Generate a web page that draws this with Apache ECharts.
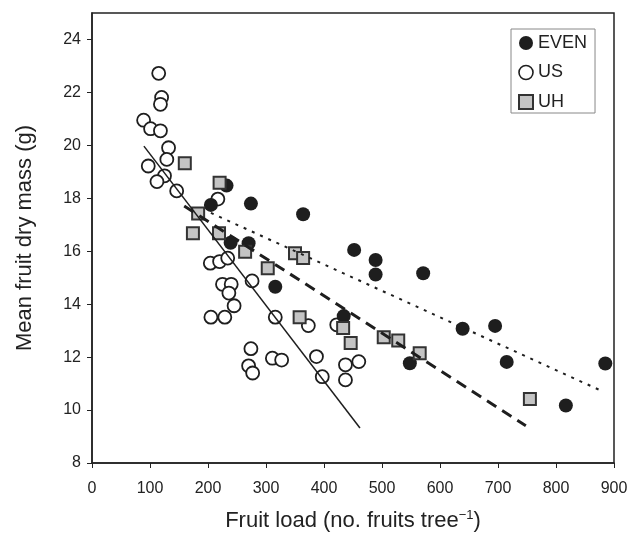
<!DOCTYPE html>
<html>
<head>
<meta charset="utf-8">
<script src="https://cdn.jsdelivr.net/npm/echarts@6/dist/echarts.min.js"></script>
<style>
html,body{margin:0;padding:0;background:#fff;}
#chart{width:631px;height:534px;}
</style>
</head>
<body>
<div id="chart"></div>
<script>
// ---- data ----
const evenX = [205, 232, 274, 239, 270, 316, 364, 452, 489, 489, 571, 434, 548, 639, 695, 715, 885, 817];
const evenY = [17.75, 18.48, 17.8, 16.32, 16.3, 14.66, 17.4, 16.05, 15.67, 15.12, 15.17, 13.55, 11.77, 13.07, 13.18, 11.82, 11.76, 10.17];

const usX = [115, 120, 118, 89, 101, 118, 132, 129, 97, 125, 112, 146, 217, 204, 220, 234, 276, 225, 240, 236, 245, 205, 229, 316, 274, 270, 277, 311, 327, 373, 387, 397, 437, 460, 437, 422];
const usY = [22.72, 21.81, 21.55, 20.95, 20.63, 20.55, 19.91, 19.47, 19.22, 18.85, 18.63, 18.28, 17.97, 15.55, 15.61, 15.74, 14.88, 14.75, 14.75, 14.42, 13.94, 13.51, 13.51, 13.51, 12.32, 11.67, 11.40, 11.96, 11.89, 13.19, 12.02, 11.26, 11.71, 11.83, 11.14, 13.22];

const uhX = [160, 220, 183, 174, 219, 264, 303, 350, 364, 358, 433, 446, 503, 528, 565, 755];
const uhY = [19.32, 18.59, 17.43, 16.68, 16.68, 15.98, 15.36, 15.92, 15.74, 13.51, 13.10, 12.53, 12.75, 12.63, 12.15, 10.42];

// fitted regression lines (end points)
const usFitX = [89.5, 462];
const usFitY = [19.97, 9.32];
const uhFitX = [159, 748];
const uhFitY = [17.71, 9.41];
const evenFitX = [205, 877];
const evenFitY = [17.45, 10.74];

const xTicks = [0, 100, 200, 300, 400, 500, 600, 700, 800, 900];
const yTicks = [8, 10, 12, 14, 16, 18, 20, 22, 24];

const seriesNames = ['EVEN', 'US', 'UH'];

const zip = (xs, ys) => xs.map((x, i) => [x, ys[i]]);
const FONT = '"Liberation Sans", Arial, sans-serif';
const INK = '#222';

const evenStyle = {color: '#1e1e1e', opacity: 1};
const usStyle = {color: '#ffffff', borderColor: '#1e1e1e', borderWidth: 1.8, opacity: 1};
const uhStyle = {color: '#c4c4c4', borderColor: '#333', borderWidth: 2, opacity: 1};

const chart = echarts.init(document.getElementById('chart'), null, {renderer: 'canvas'});
chart.setOption({
  animation: false,
  backgroundColor: '#fff',
  textStyle: {fontFamily: FONT},
  grid: {left: 92, right: 17, top: 13, bottom: 71, containLabel: false, outerBoundsMode: 'none', show: true, borderColor: INK, borderWidth: 1.5, backgroundColor: 'transparent'},
  legend: {
    orient: 'vertical',
    left: 511, top: 29,
    padding: [5, 8, 2, 7],
    itemGap: 11.5,
    itemWidth: 14, itemHeight: 14,
    itemTextGap: 6,
    borderColor: '#888', borderWidth: 1,
    textStyle: {fontSize: 18, color: INK, fontFamily: FONT},
    data: [
      {name: seriesNames[0], icon: 'circle', itemStyle: evenStyle},
      {name: seriesNames[1], icon: 'circle', itemStyle: {color: '#fff', borderColor: '#1e1e1e', borderWidth: 1.6, opacity: 1}},
      {name: seriesNames[2], icon: 'rect', itemStyle: uhStyle}
    ]
  },
  xAxis: {
    type: 'value', min: 0, max: 900, interval: 100,
    name: 'Fruit load (no. fruits tree{sup|−1})',
    nameLocation: 'middle', nameGap: 46,
    nameTextStyle: {fontSize: 22, color: INK, fontFamily: FONT, rich: {sup: {fontSize: 13, color: INK, verticalAlign: 'top', padding: [0, 0, 10, 0], fontFamily: FONT}}},
    axisLine: {show: true, lineStyle: {color: INK, width: 1.5}},
    axisTick: {show: true, length: 5, lineStyle: {color: INK}, customValues: xTicks},
    axisLabel: {fontSize: 16, color: INK, margin: 18, fontFamily: FONT, customValues: xTicks},
    splitLine: {show: false}
  },
  yAxis: {
    type: 'value', min: 8, max: 25, interval: 2,
    name: 'Mean fruit dry mass (g)',
    nameLocation: 'middle', nameGap: 56,
    nameTextStyle: {fontSize: 22, color: INK, fontFamily: FONT},
    axisLine: {show: true, lineStyle: {color: INK, width: 1.5}},
    axisTick: {show: true, length: 5, lineStyle: {color: INK}, customValues: yTicks},
    axisLabel: {fontSize: 16, color: INK, margin: 11, fontFamily: FONT, customValues: yTicks},
    splitLine: {show: false}
  },
  series: [
    {name: seriesNames[0], type: 'scatter', symbol: 'circle', symbolSize: 14, itemStyle: evenStyle, data: zip(evenX, evenY), z: 3},
    {name: seriesNames[1], type: 'scatter', symbol: 'circle', symbolSize: 13, itemStyle: usStyle, data: zip(usX, usY), z: 2},
    {name: seriesNames[2], type: 'scatter', symbol: 'rect', symbolSize: 12, itemStyle: uhStyle, data: zip(uhX, uhY), z: 4},
    {name: 'usFit', type: 'line', data: zip(usFitX, usFitY), showSymbol: false, symbol: 'none', lineStyle: {color: '#1e1e1e', width: 1.5, type: 'solid'}, z: 5, silent: true},
    {name: 'uhFit', type: 'line', data: zip(uhFitX, uhFitY), showSymbol: false, symbol: 'none', lineStyle: {color: '#1e1e1e', width: 3, type: [11, 7]}, z: 5, silent: true},
    {name: 'evenFit', type: 'line', data: zip(evenFitX, evenFitY), showSymbol: false, symbol: 'none', lineStyle: {color: '#1e1e1e', width: 2, type: [3, 6]}, z: 5, silent: true}
  ]
});
</script>
</body>
</html>
